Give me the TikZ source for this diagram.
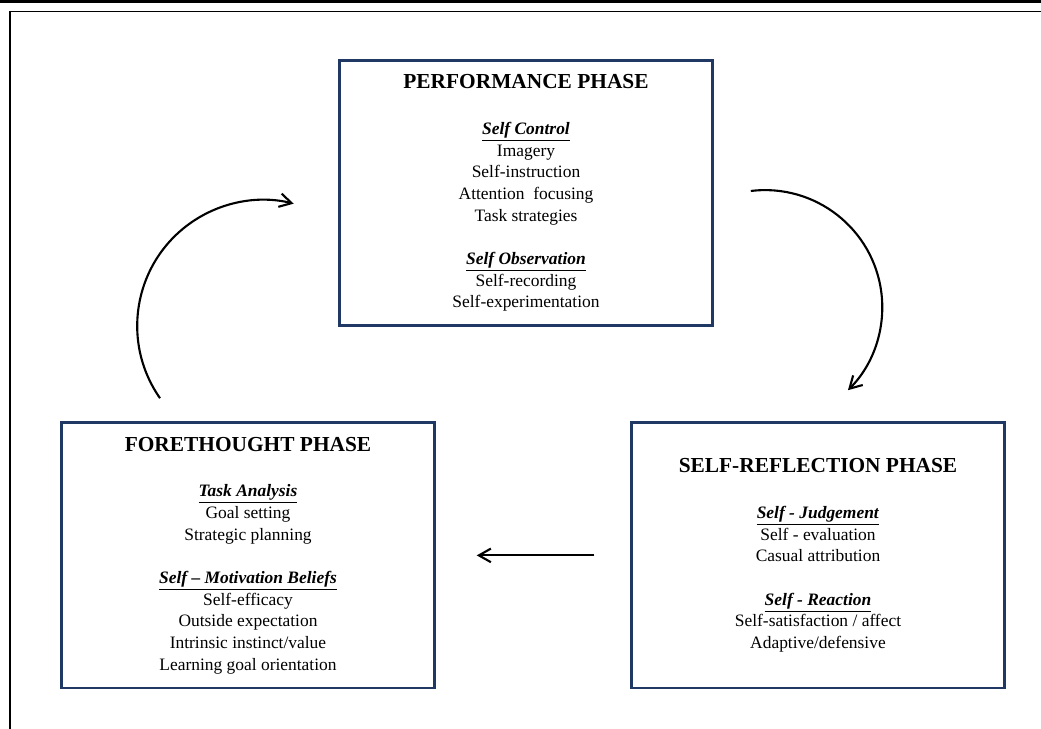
\documentclass[tikz,border=0pt]{standalone}
\usepackage{fontspec}
\setmainfont{Liberation Serif}
\usetikzlibrary{arrows.meta, positioning}
\definecolor{CNavy}{HTML}{1F3864}
\newcommand{\phasetitle}{\fontsize{15.2}{18}\selectfont\bfseries}
\newcommand{\phasehead}[1]{\underline{\textbf{\textit{#1}}}}

\begin{document}
\begin{tikzpicture}[
    phase/.style={draw=CNavy, line width=1.9pt, minimum width=9.32cm, minimum height=6.63cm,
        align=center, font=\fontsize{12.4}{15.4}\selectfont},
    cycle/.style={line width=1.5pt, -{Straight Barb[length=3mm, width=3.4mm]}}]
    \useasboundingbox (0,0) rectangle (26.025,18.225);

    % Frame
    \fill[black] (0,18.14) rectangle (26.025,18.225);
    \draw[line width=1.2pt] (26.025,17.94) -- (0.25,17.94) -- (0.25,0);

    % Performance
    \node[phase] (perf) at (13.15,13.4) {%
        {\phasetitle PERFORMANCE PHASE}\\[17.3pt]
        \phasehead{Self Control}\\
        Imagery\\
        Self-instruction\\
        Attention\ \ focusing\\
        Task strategies\\[15.4pt]
        \phasehead{Self Observation}\\
        Self-recording\\
        Self-experimentation};

    % Forethought
    \node[phase] (fore) at (6.2,4.34) {%
        {\phasetitle FORETHOUGHT PHASE}\\[17.3pt]
        \phasehead{Task Analysis}\\
        Goal setting\\
        Strategic planning\\[15.4pt]
        \phasehead{Self -- Motivation Beliefs}\\
        Self-efficacy\\
        Outside expectation\\
        Intrinsic instinct/value\\
        Learning goal orientation};

    % Self-reflection
    \node[phase] (refl) at (20.45,4.34) {%
        {\phasetitle SELF-REFLECTION PHASE}\\[17.3pt]
        \phasehead{Self - Judgement}\\
        Self - evaluation\\
        Casual attribution\\[15.4pt]
        \phasehead{Self - Reaction}\\
        Self-satisfaction / affect\\
        Adaptive/defensive};

    % Cycle
    \coordinate (upstart) at (4.0,8.27);
    \coordinate (downstart) at (18.77,13.45);
    \draw[cycle] (upstart) arc[start angle=215, end angle=76, radius=3.15cm];
    \draw[cycle] (downstart) arc[start angle=97, end angle=-45, radius=2.93cm];
    \draw[cycle] ([xshift=-0.9cm]refl.west) -- ([xshift=1.025cm]fore.east);
\end{tikzpicture}
\end{document}
